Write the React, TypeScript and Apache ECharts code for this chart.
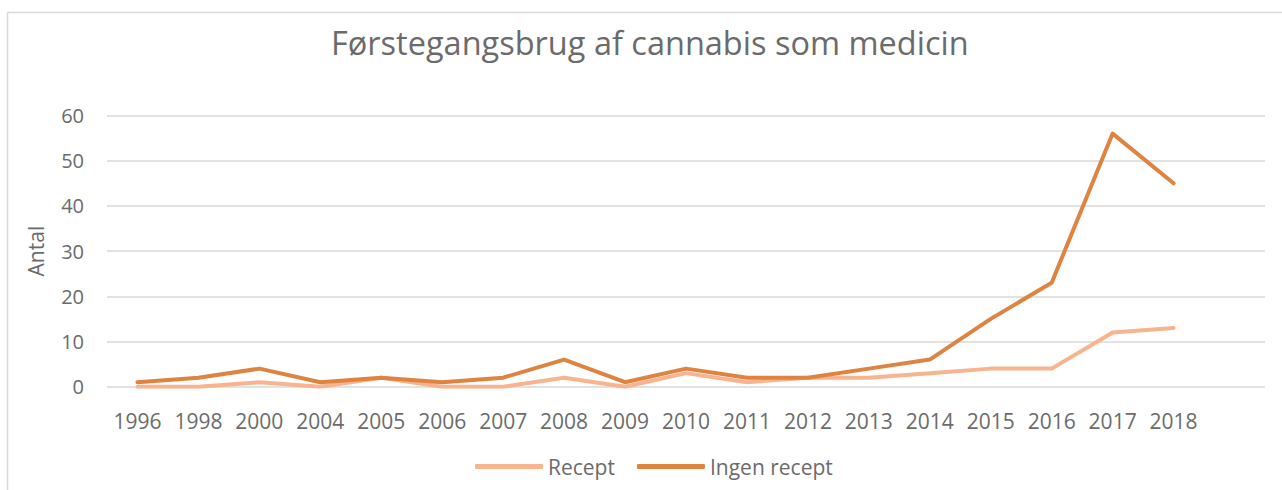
import React, { useEffect, useRef } from "react";
import * as echarts from "echarts";

const title = "Førstegangsbrug af cannabis som medicin";
const years = ["1996","1998","2000","2004","2005","2006","2007","2008","2009","2010","2011","2012","2013","2014","2015","2016","2017","2018",""];
const recept = [0,0,1,0,2,0,0,2,0,3,1,2,2,3,4,4,12,13,null];
const ingenRecept = [1,2,4,1,2,1,2,6,1,4,2,2,4,6,15,23,56,45,null];
const yTicks = { min: 0, max: 60, interval: 10 };

const FONT = "'Open Sans', sans-serif";
const TXT = "#6b6b6b";

export default function App() {
  const ref = useRef<HTMLDivElement>(null);
  useEffect(() => {
    if (!ref.current) return;
    const chart = echarts.init(ref.current, null, { renderer: "svg" });
    chart.setOption({
      animation: false,
      backgroundColor: "#fff",
      textStyle: { fontFamily: FONT },
      title: {
        text: title,
        left: 326,
        top: 21,
        textStyle: { fontFamily: FONT, fontSize: 32.5, fontWeight: "normal", color: TXT },
      },
      graphic: [
        {
          type: "rect",
          shape: { x: 7.5, y: 12.5, width: 1400, height: 600 },
          style: { fill: "none", stroke: "#d9d9d9", lineWidth: 1.5 },
          silent: true,
        },
      ],
      legend: {
        bottom: 8,
        left: 470,
        icon: "roundRect",
        itemWidth: 68,
        itemHeight: 5,
        itemGap: 22,
        textStyle: { fontFamily: FONT, fontSize: 21, color: TXT },
        data: ["Recept", "Ingen recept"],
      },
      grid: { left: 107, right: 17, top: 115.5, bottom: 103.3, containLabel: false },
      xAxis: {
        type: "category",
        data: years,
        boundaryGap: true,
        axisLine: { show: false },
        axisTick: { show: false },
        axisLabel: { fontFamily: FONT, fontSize: 21, color: TXT, margin: 24, interval: 0 },
      },
      yAxis: {
        type: "value",
        min: yTicks.min,
        max: yTicks.max,
        interval: yTicks.interval,
        name: "Antal",
        nameLocation: "middle",
        nameGap: 61,
        nameTextStyle: { fontFamily: FONT, fontSize: 21, color: TXT },
        axisLine: { show: false },
        axisTick: { show: false },
        axisLabel: { fontFamily: FONT, fontSize: 20, color: TXT, margin: 23 },
        splitLine: { lineStyle: { color: "#d9d9d9", width: 1.5 } },
      },
      series: [
        {
          name: "Recept",
          type: "line",
          data: recept,
          symbol: "none",
          color: "#F8B48E",
          lineStyle: { width: 4, color: "#F8B48E", cap: "round", join: "round" },
        },
        {
          name: "Ingen recept",
          type: "line",
          data: ingenRecept,
          symbol: "none",
          color: "#DE8440",
          lineStyle: { width: 4, color: "#DE8440", cap: "round", join: "round" },
        },
      ],
    });
    return () => chart.dispose();
  }, []);
  return (
    <div
      ref={ref}
      style={{ position: "absolute", left: 0, top: 0, width: 1282, height: 490 }}
    />
  );
}
